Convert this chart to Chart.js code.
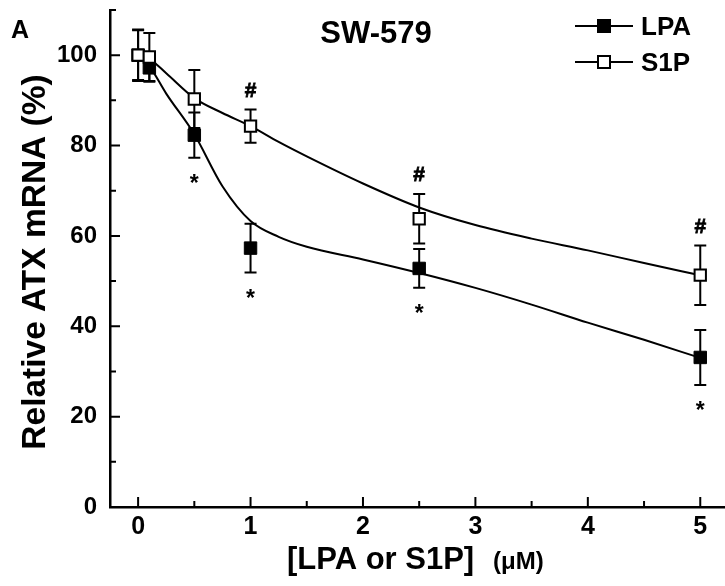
<!DOCTYPE html>
<html>
<head>
<meta charset="utf-8">
<script src="https://cdn.jsdelivr.net/npm/chart.js@4.4.1/dist/chart.umd.min.js"></script>
<style>
  html, body { margin: 0; padding: 0; background: #fff; }
  canvas { display: block; }
</style>
</head>
<body>
<canvas id="atxChart" width="725" height="586"></canvas>
<script>
// Data
const doses = [0, 0.1, 0.5, 1, 2.5, 5];
const lpaMean = [100, 97.2, 82.3, 57.3, 52.8, 33.1];
const lpaErr = [5.5, 3.1, 5.0, 5.4, 4.3, 6.1];
const s1pMean = [100, 99.6, 90.3, 84.3, 63.8, 51.3];
const s1pErr = [5.7, 5.3, 6.4, 3.7, 5.5, 6.6];
const lpaSig = ['', '', '*', '*', '*', '*'];
const s1pSig = ['', '', '', '#', '#', '#'];

// Fitted curves
const fitX = [0, 0.1, 0.25, 0.5, 0.75, 1, 1.25, 1.5, 2, 2.5, 3, 3.5, 4, 4.5, 5];
const lpaFit = [100, 97.6, 91.5, 82.5, 71, 63.3, 59.8, 57.6, 54.8, 51.8, 48.5, 44.8, 40.8, 37, 33];
const s1pFit = [100, 99.2, 96, 90.5, 87.2, 84.3, 80.8, 77.6, 71.6, 66.3, 62.4, 59.4, 56.8, 54, 51.3];

// Axis ticks
const xTickValues = [0, 0.5, 1, 1.5, 2, 2.5, 3, 3.5, 4, 4.5, 5];
const xTickLabels = ['0', '', '1', '', '2', '', '3', '', '4', '', '5'];
const yTickValues = [0, 10, 20, 30, 40, 50, 60, 70, 80, 90, 100, 110];
const yTickLabels = ['0', '', '20', '', '40', '', '60', '', '80', '', '100', ''];

const FONT = '"Liberation Sans", Arial, Helvetica, sans-serif';

const toPoints = (xs, ys) => xs.map((x, i) => ({ x, y: ys[i] }));

// --- error bars, inward ticks, labels, legend ---
const figurePlugin = {
    id: 'figure',
    beforeDatasetsDraw(chart) {
        const { ctx, scales: { x, y } } = chart;
        ctx.save();
        ctx.strokeStyle = '#000';
        ctx.lineWidth = 2;
        const bars = (means, errs) => {
            doses.forEach((d, i) => {
                const px = x.getPixelForValue(d);
                const top = y.getPixelForValue(means[i] + errs[i]);
                const bot = y.getPixelForValue(means[i] - errs[i]);
                ctx.beginPath();
                ctx.moveTo(px, top); ctx.lineTo(px, bot);
                ctx.moveTo(px - 6, top); ctx.lineTo(px + 6, top);
                ctx.moveTo(px - 6, bot); ctx.lineTo(px + 6, bot);
                ctx.stroke();
            });
        };
        bars(lpaMean, lpaErr);
        bars(s1pMean, s1pErr);
        ctx.restore();
    },
    afterDraw(chart) {
        const { ctx, chartArea, scales: { x, y } } = chart;
        ctx.save();
        ctx.strokeStyle = '#000';
        ctx.fillStyle = '#000';

        // inward ticks
        ctx.lineWidth = 2;
        ctx.beginPath();
        xTickValues.forEach((v, i) => {
            const px = x.getPixelForValue(v);
            const len = xTickLabels[i] ? 10 : 6;
            ctx.moveTo(px, chartArea.bottom); ctx.lineTo(px, chartArea.bottom - len);
        });
        yTickValues.forEach((v, i) => {
            const py = y.getPixelForValue(v);
            const len = yTickLabels[i] ? 10 : 6;
            ctx.moveTo(chartArea.left, py); ctx.lineTo(chartArea.left + len, py);
        });
        ctx.stroke();

        // significance marks
        ctx.textAlign = 'center';
        ctx.textBaseline = 'alphabetic';
        ctx.font = `bold 23px ${FONT}`;
        doses.forEach((d, i) => {
            if (!lpaSig[i]) return;
            const px = x.getPixelForValue(d);
            const py = y.getPixelForValue(lpaMean[i] - lpaErr[i]) + 20;
            ctx.fillText(lpaSig[i], px, py + 13);
        });
        ctx.font = `bold 21px ${FONT}`;
        ctx.lineWidth = 0.8;
        doses.forEach((d, i) => {
            if (!s1pSig[i]) return;
            const px = x.getPixelForValue(d);
            const py = y.getPixelForValue(s1pMean[i] + s1pErr[i]) - 20;
            ctx.fillText(s1pSig[i], px, py + 7.5);
            ctx.strokeText(s1pSig[i], px, py + 7.5);
        });

        // panel letter and title
        ctx.textAlign = 'left';
        ctx.font = `bold 25px ${FONT}`;
        ctx.fillText('A', 11, 38);
        ctx.textAlign = 'center';
        ctx.font = `bold 31px ${FONT}`;
        ctx.fillText('SW-579', 376, 43);

        // axis titles
        ctx.textAlign = 'left';
        ctx.font = `bold 31px ${FONT}`;
        ctx.fillText('[LPA or S1P]', 287, 569);
        ctx.font = `bold 24px ${FONT}`;
        ctx.fillText('(\u03BCM)', 493, 569);

        ctx.save();
        ctx.translate(45, 262);
        ctx.rotate(-Math.PI / 2);
        ctx.textAlign = 'center';
        ctx.font = `bold 33.5px ${FONT}`;
        ctx.fillText('Relative ATX mRNA (%)', 0, 0);
        ctx.restore();

        // legend
        const legend = [
            { label: 'LPA', fill: '#000', yc: 26 },
            { label: 'S1P', fill: '#fff', yc: 62 }
        ];
        legend.forEach(item => {
            ctx.lineWidth = 2;
            ctx.beginPath();
            ctx.moveTo(575, item.yc); ctx.lineTo(633, item.yc);
            ctx.stroke();
            ctx.fillStyle = item.fill;
            ctx.fillRect(598, item.yc - 6, 12, 12);
            ctx.strokeRect(598, item.yc - 6, 12, 12);
            ctx.fillStyle = '#000';
            ctx.textAlign = 'left';
            ctx.font = `bold 26px ${FONT}`;
            ctx.fillText(item.label, 641, item.yc + 9);
        });
        ctx.restore();
    }
};

const ctx = document.getElementById('atxChart').getContext('2d');
new Chart(ctx, {
    type: 'scatter',
    data: {
        datasets: [
            {
                label: 'S1P',
                data: toPoints(doses, s1pMean),
                showLine: false,
                pointStyle: 'rect',
                pointRadius: 8,
                pointBorderWidth: 2,
                pointBackgroundColor: '#fff',
                pointBorderColor: '#000',
                order: 0
            },
            {
                label: 'LPA',
                data: toPoints(doses, lpaMean),
                showLine: false,
                pointStyle: 'rect',
                pointRadius: 8.8,
                pointBorderWidth: 1,
                pointBackgroundColor: '#000',
                pointBorderColor: '#000',
                order: 1
            },
            {
                label: 'LPA fit',
                data: toPoints(fitX, lpaFit),
                showLine: true,
                pointRadius: 0,
                borderColor: '#000',
                borderWidth: 2,
                cubicInterpolationMode: 'monotone',
                order: 2
            },
            {
                label: 'S1P fit',
                data: toPoints(fitX, s1pFit),
                showLine: true,
                pointRadius: 0,
                borderColor: '#000',
                borderWidth: 2,
                cubicInterpolationMode: 'monotone',
                order: 3
            }
        ]
    },
    options: {
        responsive: false,
        animation: false,
        layout: { autoPadding: false, padding: { top: 10, left: 0, right: 0, bottom: 0 } },
        plugins: {
            legend: { display: false },
            tooltip: { enabled: false }
        },
        scales: {
            x: {
                type: 'linear',
                min: -0.25,
                max: 5.22,
                grid: { display: false, drawTicks: false },
                border: { display: true, color: '#000', width: 2.5 },
                afterBuildTicks: s => { s.ticks = xTickValues.map(v => ({ value: v })); },
                afterFit: s => {
                    s.height = 79;
                    s.paddingLeft = 0; s.paddingRight = 0;
                },
                ticks: {
                    autoSkip: false,
                    maxRotation: 0,
                    padding: 5,
                    color: '#000',
                    font: { family: FONT, size: 25, weight: 'bold' },
                    callback: (v, i) => xTickLabels[i]
                }
            },
            y: {
                min: 0,
                max: 110,
                grid: { display: false, drawTicks: false },
                border: { display: true, color: '#000', width: 2.5 },
                afterBuildTicks: s => { s.ticks = yTickValues.map(v => ({ value: v })); },
                afterFit: s => {
                    s.width = 110;
                    s.paddingTop = 0; s.paddingBottom = 0;
                },
                ticks: {
                    autoSkip: false,
                    padding: 13,
                    color: '#000',
                    font: { family: FONT, size: 24, weight: 'bold' },
                    callback: (v, i) => yTickLabels[i]
                }
            }
        }
    },
    plugins: [figurePlugin]
});
</script>
</body>
</html>
